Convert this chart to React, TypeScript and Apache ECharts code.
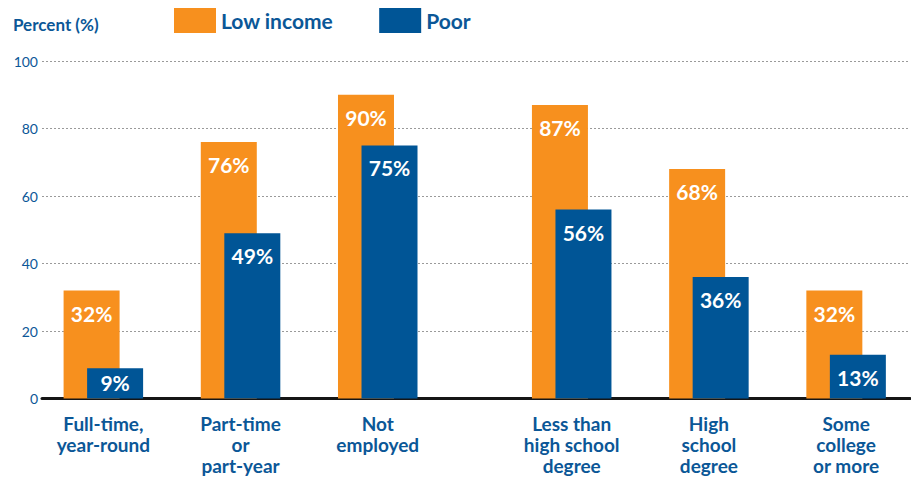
import React, { useEffect, useRef } from "react";
import * as echarts from "echarts";

const categoriesEmployment = ["Full-time,\nyear-round", "Part-time\nor\npart-year", "Not\nemployed"];
const categoriesEducation = ["Less than\nhigh school\ndegree", "High\nschool\ndegree", "Some\ncollege\nor more"];
const lowIncomeEmployment = [32, 76, 90];
const poorEmployment = [9, 49, 75];
const lowIncomeEducation = [87, 68, 32];
const poorEducation = [56, 36, 13];
const seriesNames = ["Low income", "Poor"];
const yMin = 0;
const yMax = 100;
const yInterval = 20;

const ORANGE = "#f7901e";
const BLUE = "#005596";
const TEXT = "#0b5797";
const FONT = 'Lato, "DejaVu Sans", sans-serif';

function makeData(values: number[]) {
  return values.map((v) =>
    v < 12 ? { value: v, label: { distance: 4 } } : { value: v }
  );
}

const barLabel = {
  show: true,
  position: "insideTop",
  distance: 12,
  formatter: "{c}%",
  color: "#ffffff",
  fontSize: 21,
  fontWeight: "bold",
  fontFamily: FONT,
};

export default function App() {
  const ref = useRef<HTMLDivElement>(null);
  useEffect(() => {
    if (!ref.current) return;
    const chart = echarts.init(ref.current, null, { renderer: "svg" });
    const catAxis = (data: string[], gridIndex: number) => ({
      type: "category",
      gridIndex,
      data,
      axisLine: { show: false },
      axisTick: { show: false },
      axisLabel: {
        color: TEXT,
        fontSize: 19,
        lineHeight: 21,
        fontWeight: "bold",
        fontFamily: FONT,
        margin: 14,
        interval: 0,
      },
    });
    const hiddenY = (gridIndex: number) => ({
      type: "value",
      gridIndex,
      min: yMin,
      max: yMax,
      interval: yInterval,
      show: false,
    });
    chart.setOption({
      animation: false,
      title: {
        text: "Percent (%)",
        left: 13,
        top: 16,
        padding: 0,
        textStyle: { color: TEXT, fontSize: 17, fontWeight: "bold", fontFamily: FONT },
      },
      legend: {
        data: seriesNames,
        left: 174,
        top: 8,
        padding: 0,
        itemWidth: 42,
        itemHeight: 25,
        itemGap: 46,
        icon: "rect",
        textStyle: { color: TEXT, fontSize: 21, fontWeight: "bold", fontFamily: FONT },
      },
      grid: [
        { left: 42, right: 1, top: 61, bottom: 83.5, outerBoundsMode: "none" },
        { left: 34.75, width: 411.6, top: 61, bottom: 83.5, outerBoundsMode: "none" },
        { left: 503.1, width: 411.6, top: 61, bottom: 83.5, outerBoundsMode: "none" },
      ],
      xAxis: [
        {
          type: "value",
          gridIndex: 0,
          min: 0,
          max: 1,
          axisLine: { show: true, lineStyle: { color: "#151515", width: 3 } },
          axisTick: { show: false },
          axisLabel: { show: false },
          splitLine: { show: false },
        },
        catAxis(categoriesEmployment, 1),
        catAxis(categoriesEducation, 2),
      ],
      yAxis: [
        {
          type: "value",
          gridIndex: 0,
          min: yMin,
          max: yMax,
          interval: yInterval,
          axisLine: { show: false },
          axisTick: { show: false },
          axisLabel: { color: TEXT, fontSize: 14, fontFamily: FONT, margin: 4 },
          splitLine: { lineStyle: { color: "#9a9a9a", type: [2, 2], width: 1 } },
        },
        hiddenY(1),
        hiddenY(2),
      ],
      series: [
        {
          name: seriesNames[0],
          type: "bar",
          xAxisIndex: 1,
          yAxisIndex: 1,
          data: makeData(lowIncomeEmployment),
          barWidth: 56,
          barGap: "-58%",
          itemStyle: { color: ORANGE },
          label: barLabel,
        },
        {
          name: seriesNames[1],
          type: "bar",
          xAxisIndex: 1,
          yAxisIndex: 1,
          data: makeData(poorEmployment),
          barWidth: 56,
          barGap: "-58%",
          itemStyle: { color: BLUE },
          label: barLabel,
        },
        {
          name: seriesNames[0],
          type: "bar",
          xAxisIndex: 2,
          yAxisIndex: 2,
          data: makeData(lowIncomeEducation),
          barWidth: 56,
          barGap: "-58%",
          itemStyle: { color: ORANGE },
          label: barLabel,
        },
        {
          name: seriesNames[1],
          type: "bar",
          xAxisIndex: 2,
          yAxisIndex: 2,
          data: makeData(poorEducation),
          barWidth: 56,
          barGap: "-58%",
          itemStyle: { color: BLUE },
          label: barLabel,
        },
      ],
    });
    return () => chart.dispose();
  }, []);
  return (
    <div
      ref={ref}
      style={{ position: "fixed", left: 0, top: 0, width: 911, height: 482, background: "#fff" }}
    />
  );
}
